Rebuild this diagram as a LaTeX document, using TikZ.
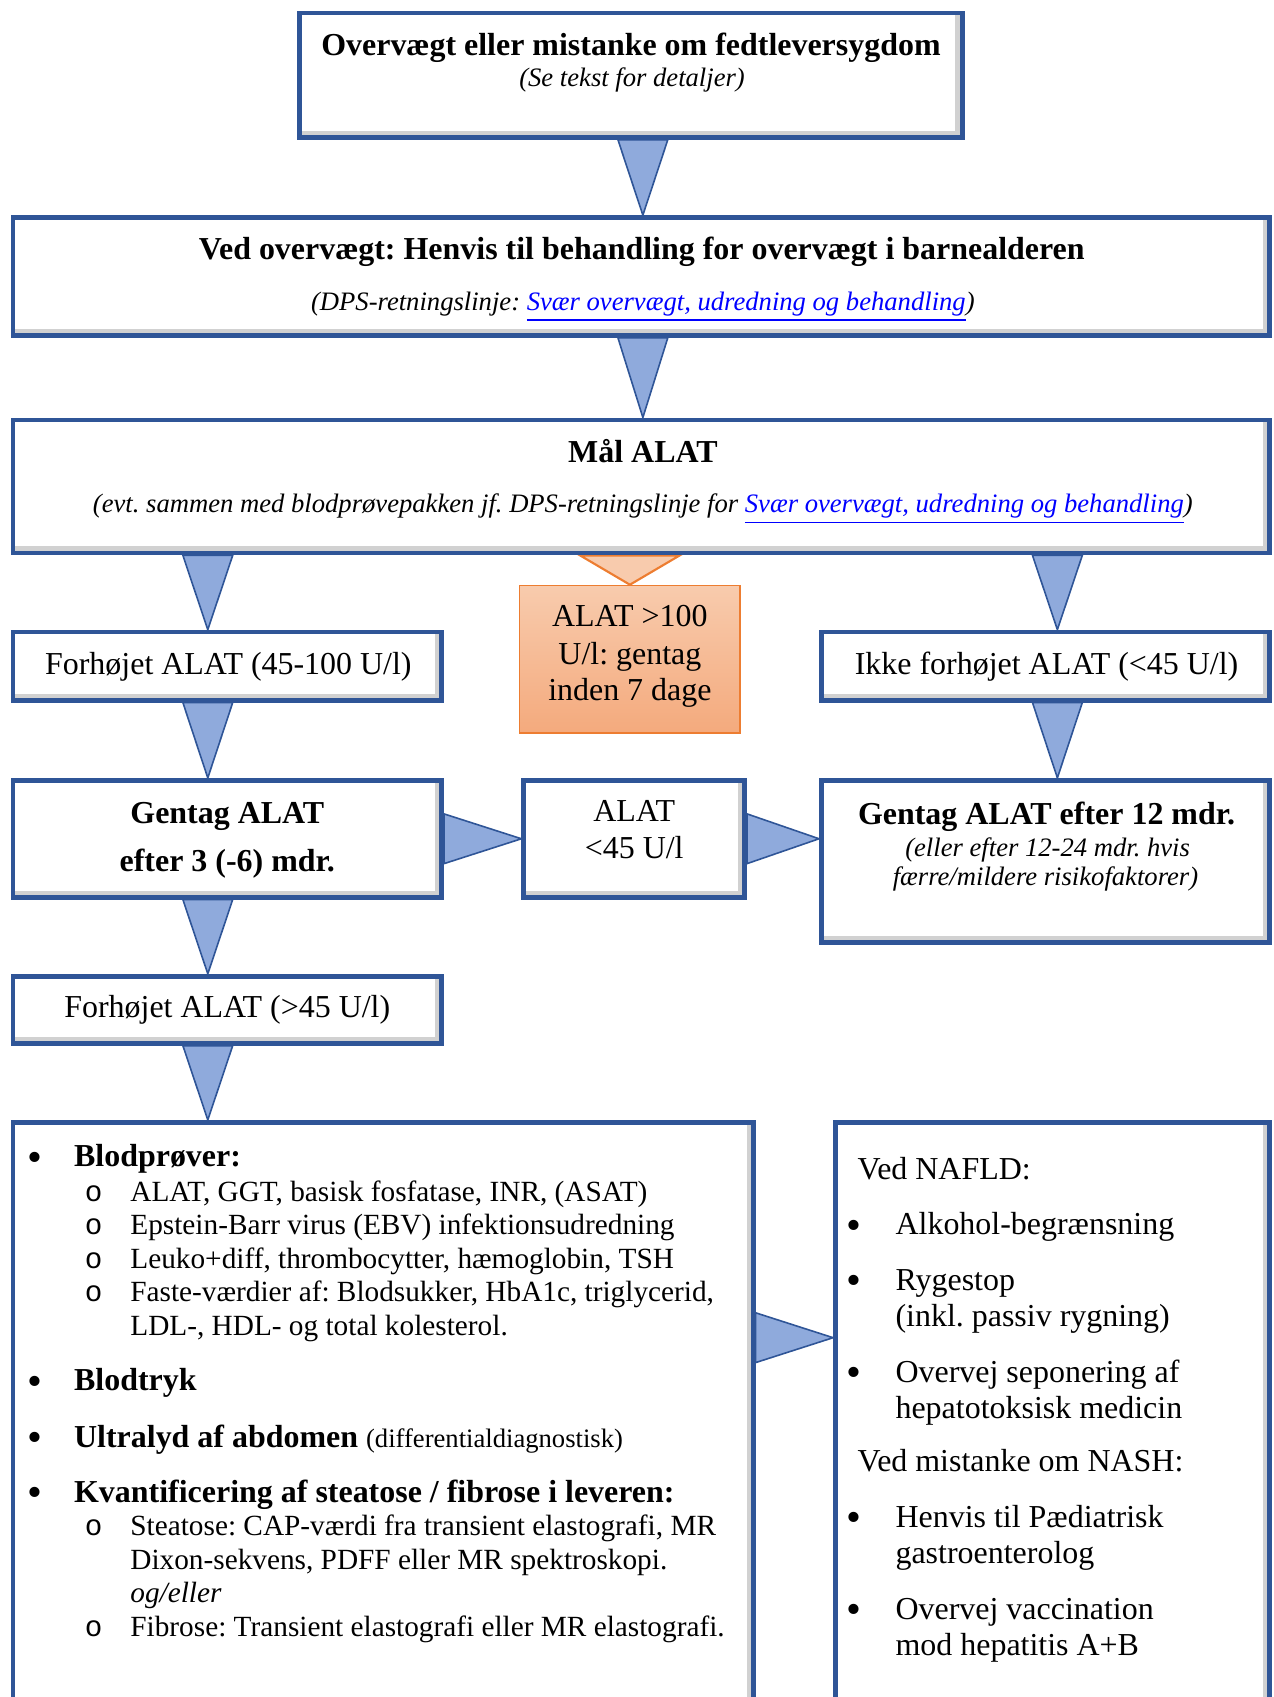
\documentclass[tikz,border=0pt]{standalone}
\usepackage{fontspec}
\setmainfont{Liberation Serif}
\setmonofont{Liberation Mono}
\usetikzlibrary{fit,backgrounds}
\definecolor{boxblue}{RGB}{47,85,151}
\definecolor{arrowfill}{RGB}{143,170,220}
\definecolor{orangeline}{RGB}{237,125,49}
\definecolor{orangetop}{RGB}{248,203,173}
\definecolor{orangebot}{RGB}{244,170,125}
\definecolor{linkblue}{RGB}{0,0,255}
\newcommand{\lnk}[1]{\textcolor{linkblue}{\underline{#1}}}
\frenchspacing

\begin{document}
\begin{tikzpicture}[x=0.4065pt, y=-0.4065pt,
  box/.style={draw=boxblue, line width=1.8pt, fill=white, inner sep=0pt,
    path picture={\draw[black!18, line width=5pt]
      (path picture bounding box.south west) -- (path picture bounding box.south east)
      -- (path picture bounding box.north east);}},
  tri/.style={draw=boxblue, line width=0.6pt, fill=arrowfill},
  otri/.style={draw=orangeline, line width=0.8pt, fill=orangetop},
  bf/.style={font=\fontsize{12}{14}\selectfont\bfseries, anchor=base, inner sep=0pt},
  rm/.style={font=\fontsize{12}{14}\selectfont, anchor=base, inner sep=0pt},
  it/.style={font=\fontsize{10}{12}\selectfont\itshape, anchor=base, inner sep=0pt},
  li/.style={font=\fontsize{11}{13}\selectfont, anchor=base west, inner sep=0pt},
  hd/.style={font=\fontsize{12}{14}\selectfont\bfseries, anchor=base west, inner sep=0pt},
  rl/.style={font=\fontsize{12}{14}\selectfont, anchor=base west, inner sep=0pt},
  dotmark/.style={font=\fontsize{16}{18}\selectfont, anchor=base west, inner sep=0pt}]
  \useasboundingbox (0,0) rectangle (1177,1568);
  \clip (0,0) rectangle (1177,1568);

  % boxes
  \node[box, fit={(277,12) (889,127)}] (start) {};
  \node[box, fit={(12,201) (1173,310)}] (ov) {};
  \node[box, fit={(12,388) (1173,511)}] (mal) {};
  \node[box, fit={(12,584) (408,647)}] (fa) {};
  \node[box, fit={(759,584) (1173,647)}] (ikke) {};
  \node[fit={(480,541) (684,677)}, inner sep=0pt, draw=orangeline, line width=0.6pt,
    top color=orangetop, bottom color=orangebot] (alto) {};
  \node[box, fit={(12,721) (408,829)}] (gen3) {};
  \node[box, fit={(484,721) (688,829)}] (alat) {};
  \node[box, fit={(759,721) (1173,871)}] (gen12) {};
  \node[box, fit={(12,902) (408,964)}] (fb) {};
  \node[box, fit={(12,1037) (696,1620)}] (tests) {};
  \node[box, fit={(772,1037) (1173,1620)}] (nafld) {};

  % texts
  \node[bf] (startA) at (583,51) {Overvægt eller mistanke om fedtleversygdom};
  \node[it] (startB) at (584,80) {(Se tekst for detaljer)};
  \node[bf] (ovA) at (593,240) {Ved overvægt: Henvis til behandling for overvægt i barnealderen};
  \node[it] (ovB) at (594,287) {(DPS-retningslinje: \lnk{Svær overvægt, udredning og behandling})};
  \node[bf] (malA) at (594,427) {Mål ALAT};
  \node[it] (malB) at (594,474) {(evt. sammen med blodprøvepakken jf. DPS-retningslinje for \lnk{Svær overvægt, udredning og behandling})};
  \node[rm] (altoA) at (582,579) {ALAT >100};
  \node[rm] (altoB) at (582,614) {U/l: gentag};
  \node[rm] (altoC) at (582,647) {inden 7 dage};
  \node[rm] (faA) at (211,623) {Forhøjet ALAT (45-100 U/l)};
  \node[rm] (ikkeA) at (967,623) {Ikke forhøjet ALAT (<45 U/l)};
  \node[bf] (gen3A) at (210,761) {Gentag ALAT};
  \node[bf] (gen3B) at (210,805) {efter 3 (-6) mdr.};
  \node[rm] (alatA) at (586,759) {ALAT};
  \node[rm] (alatB) at (586,793) {<45 U/l};
  \node[bf] (gen12A) at (967,762) {Gentag ALAT efter 12 mdr.};
  \node[it] (gen12B) at (968,791) {(eller efter 12-24 mdr. hvis};
  \node[it] (gen12C) at (966,818) {færre/mildere risikofaktorer)};
  \node[rm] (fbA) at (210,940) {Forhøjet ALAT (>45 U/l)};

  % left list
  \foreach \yy/\txt [count=\i] in {1078/{Blodprøver:}, 1285/{Blodtryk},
      1337/{Ultralyd af abdomen {\mdseries\fontsize{10}{12}\selectfont (differentialdiagnostisk)}},
      1388/{Kvantificering af steatose / fibrose i leveren:}}
    {\node[dotmark] (dot\i) at (25,\yy+4) {\textbullet};
     \node[hd] (head\i) at (68,\yy) {\txt};}
  \foreach \yy/\txt [count=\i] in {1110/{ALAT, GGT, basisk fosfatase, INR, (ASAT)},
      1141/{Epstein-Barr virus (EBV) infektionsudredning},
      1172/{Leuko+diff, thrombocytter, hæmoglobin, TSH},
      1203/{Faste-værdier af: Blodsukker, HbA1c, triglycerid,},
      1419/{Steatose: CAP-værdi fra transient elastografi, MR},
      1512/{Fibrose: Transient elastografi eller MR elastografi.}}
    {\node[li, font=\fontsize{11}{13}\selectfont\ttfamily] (ring\i) at (78,\yy) {o};
     \node[li] (item\i) at (120,\yy) {\txt};}
  \node[li] (item7) at (120,1234) {LDL-, HDL- og total kolesterol.};
  \node[li] (item8) at (120,1450) {Dixon-sekvens, PDFF eller MR spektroskopi.};
  \node[li, font=\fontsize{11}{13}\selectfont\itshape] (item9) at (120,1481) {og/eller};

  % right list
  \node[rl] (nafA) at (792,1090) {Ved NAFLD:};
  \node[rl] (nafB) at (792,1360) {Ved mistanke om NASH:};
  \foreach \yy/\txt [count=\i] in {1141/{Alkohol-begrænsning}, 1192/{Rygestop},
      1277/{Overvej seponering af}, 1411/{Henvis til Pædiatrisk}, 1496/{Overvej vaccination}}
    {\node[dotmark] (rdot\i) at (782,\yy+4) {\textbullet};
     \node[rl] (radv\i) at (827,\yy) {\txt};}
  \node[rl] (radv6) at (827,1226) {(inkl. passiv rygning)};
  \node[rl] (radv7) at (827,1311) {hepatotoksisk medicin};
  \node[rl] (radv8) at (827,1445) {gastroenterolog};
  \node[rl] (radv9) at (827,1530) {mod hepatitis A+B};

  % arrows
  \coordinate (mc) at (594,0);
  \coordinate (lc) at (192,0);
  \coordinate (rc) at (977,0);
  \coordinate (ac) at (0,1236);
  \begin{pgfonlayer}{background}
    \draw[tri] (mc |- start.south) ++(-23,0) -- ++(46,0) -- (mc |- ov.north) -- cycle;
    \draw[tri] (mc |- ov.south) ++(-23,0) -- ++(46,0) -- (mc |- mal.north) -- cycle;
    \draw[tri] (lc |- mal.south) ++(-23,0) -- ++(46,0) -- (lc |- fa.north) -- cycle;
    \draw[tri] (rc |- mal.south) ++(-23,0) -- ++(46,0) -- (rc |- ikke.north) -- cycle;
    \draw[otri] (alto.north |- mal.south) ++(-46,0) -- ++(92,0) -- (alto.north) -- cycle;
    \draw[tri] (lc |- fa.south) ++(-23,0) -- ++(46,0) -- (lc |- gen3.north) -- cycle;
    \draw[tri] (rc |- ikke.south) ++(-23,0) -- ++(46,0) -- (rc |- gen12.north) -- cycle;
    \draw[tri] (gen3.east) ++(0,-23) -- ++(0,46) -- (alat.west) -- cycle;
    \draw[tri] (alat.east) ++(0,-23) -- ++(0,46) -- (alat.east -| gen12.west) -- cycle;
    \draw[tri] (lc |- gen3.south) ++(-23,0) -- ++(46,0) -- (lc |- fb.north) -- cycle;
    \draw[tri] (lc |- fb.south) ++(-23,0) -- ++(46,0) -- (lc |- tests.north) -- cycle;
    \draw[tri] (tests.east |- ac) ++(0,-23) -- ++(0,46) -- (nafld.west |- ac) -- cycle;
  \end{pgfonlayer}
\end{tikzpicture}
\end{document}
